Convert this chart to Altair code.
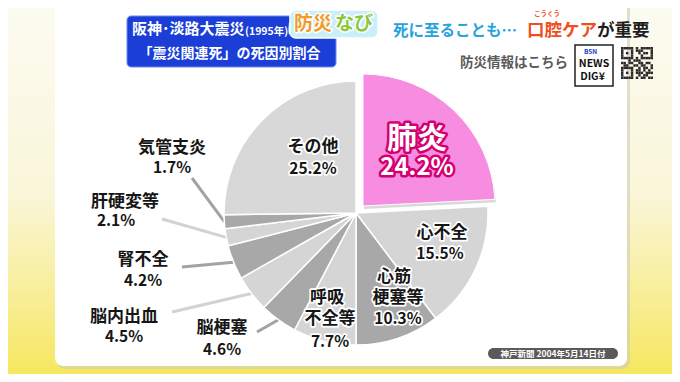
import math
import altair as alt
import pandas as pd

# ---------------- data ----------------
categories = ["肺炎", "心不全", "心筋梗塞等", "呼吸不全等", "脳梗塞",
              "脳内出血", "腎不全", "肝硬変等", "気管支炎", "その他"]
values = [24.2, 15.5, 10.3, 7.7, 4.6, 4.5, 4.2, 2.1, 1.7, 25.2]
name_lines = [["肺炎"], ["心不全"], ["心筋", "梗塞等"], ["呼吸", "不全等"], ["脳梗塞"],
              ["脳内出血"], ["腎不全"], ["肝硬変等"], ["気管支炎"], ["その他"]]

title_line1 = ["阪神･淡路大震災", "(1995年)", "に関連する"]
title_line2 = "「震災関連死」の死因別割合"
badge_parts = ["防災", "なび"]
headline_parts = ["死に至ることも…", "口腔ケア", "が重要"]
furigana = "こうくう"
link_text = "防災情報はこちら"
logo_lines = ["BSN", "NEWS", "DIG¥"]
source_text = "神戸新聞  2004年5月14日付"

# ---------------- styles / layout (screen pixel coords) ----------------
FONT = "Noto Sans CJK JP"
slice_colors = ["#f78de0", "#d5d5d5", "#a8a8a8", "#d5d5d5", "#a8a8a8",
                "#d5d5d5", "#a8a8a8", "#d5d5d5", "#a8a8a8", "#d8d8d8"]
line_colors = {"脳梗塞": "#a3a3a3", "脳内出血": "#d2d2d2", "腎不全": "#a3a3a3",
               "肝硬変等": "#d2d2d2", "気管支炎": "#a3a3a3"}
inside_labels = {"肺炎", "心不全", "心筋梗塞等", "呼吸不全等", "その他"}
CX, CY, R = 356, 213, 132          # pie centre / radius (screen px)
EXPLODE = (7, -7)                  # offset of the highlighted slice
name_pos = {
    "肺炎": [(417, 139)], "心不全": [(442, 233)], "心筋梗塞等": [(394, 277), (398, 298)],
    "呼吸不全等": [(327, 298), (330, 319)], "脳梗塞": [(222, 328)], "脳内出血": [(124, 317)],
    "腎不全": [(143, 260)], "肝硬変等": [(125, 202)], "気管支炎": [(172, 148)], "その他": [(313, 147)],
}
pct_pos = {
    "肺炎": (417, 168), "心不全": (440, 254), "心筋梗塞等": (398, 319), "呼吸不全等": (330, 342),
    "脳梗塞": (222, 350), "脳内出血": (124, 337), "腎不全": (143, 281), "肝硬変等": (116, 221),
    "気管支炎": (172, 168), "その他": (313, 169),
}
leader_start = {"気管支炎": (192, 178), "肝硬変等": (162, 219), "腎不全": (182, 267),
                "脳内出血": (172, 312), "脳梗塞": (257, 332)}

W, H = 664, 366
XS = alt.Scale(domain=[8, 8 + W], nice=False, zero=False)
YS = alt.Scale(domain=[8, 8 + H], nice=False, zero=False, reverse=True)
X = alt.X("x:Q", scale=XS, axis=None)
Y = alt.Y("y:Q", scale=YS, axis=None)


def rect_layer(rows, **mark):
    df = pd.DataFrame(rows, columns=["x", "x2", "y", "y2"])
    return alt.Chart(df).mark_rect(**mark).encode(
        x=X, x2="x2:Q", y=Y, y2="y2:Q")


# ---------------- background ----------------
bg = rect_layer([(8, 8 + W, 8, 8 + H)], color=alt.Gradient(
    gradient="linear", x1=0, y1=0, x2=0, y2=1,
    stops=[alt.GradientStop(color="#fcfbf1", offset=0),
           alt.GradientStop(color="#faf6da", offset=0.5),
           alt.GradientStop(color="#f8ee9a", offset=0.78),
           alt.GradientStop(color="#f6e75f", offset=1)]))
panel_shadow = rect_layer([(57, 630, 0, 369)], color="#cfcdb8", opacity=0.6, cornerRadius=8)
panel = rect_layer([(55, 627, 0, 366)], color="#ffffff", cornerRadius=8)

title_box = rect_layer([(127, 336, 16, 67)], color="#1a3ed6", cornerRadius=4,
                       stroke="#6d8cf0", strokeWidth=1)
badge_box = rect_layer([(290, 378, 10, 38)], color="#c9eff9", cornerRadius=6,
                       stroke="#ffffff", strokeWidth=1.5)
logo_box = rect_layer([(575, 613, 45, 86)], fill="#ffffff", stroke="#222222", strokeWidth=1.5)
source_box = rect_layer([(488, 618, 348, 359)], color="#5a5a5a", cornerRadius=6)

# decorative QR-like block
qr_rows = ["1111101011111", "1000101110001", "1010100101101", "1000100010001",
           "1111101011111", "0001011100000", "1101100110110", "0110011011001",
           "1111100101101", "1000101101010", "1010101110111", "1000100101100",
           "1111101011011"]
qx0, qy0, cell = 621, 47, 32 / 13
qr_cells = [(qx0 + c * cell, qx0 + (c + 1) * cell, qy0 + r * cell, qy0 + (r + 1) * cell)
            for r, row in enumerate(qr_rows) for c, ch in enumerate(row) if ch == "1"]
qr = rect_layer(qr_cells, color="#2a2a2a")

# ---------------- pie ----------------
starts, ends, acc = [], [], 0.0
for v in values:
    starts.append(acc)
    acc += v
    ends.append(acc)
pie_df = pd.DataFrame({"cat": categories, "start": starts, "end": ends, "color": slice_colors})
theta_scale = alt.Scale(domain=[0, 100], range=[0, 2 * math.pi])


def arc_layer(df, cx, cy, **mark):
    return alt.Chart(df).mark_arc(outerRadius=R, **mark).encode(
        theta=alt.Theta("start:Q", scale=theta_scale, stack=None),
        theta2="end:Q",
        color=alt.Color("color:N", scale=None),
        x=alt.value(cx - 8), y=alt.value(cy - 8))


rest = arc_layer(pie_df[pie_df["cat"] != "肺炎"], CX, CY, stroke="#ffffff", strokeWidth=1.5)
hl_df = pie_df[pie_df["cat"] == "肺炎"]
hl_shadow = arc_layer(hl_df.assign(color="#c8c8c8"), CX + EXPLODE[0] + 1, CY + EXPLODE[1] + 3,
                      opacity=0.7)
hl = arc_layer(hl_df, CX + EXPLODE[0], CY + EXPLODE[1], stroke="#ffffff", strokeWidth=1)

# leader lines: from label to slice edge at mid-angle
lrows = []
for cat, (sx, sy) in leader_start.items():
    i = categories.index(cat)
    mid = (starts[i] + ends[i]) / 2 / 100 * 2 * math.pi
    ex, ey = CX + R * math.sin(mid), CY - R * math.cos(mid)
    lrows.append({"x": sx, "y": sy, "x2": ex, "y2": ey, "color": line_colors[cat]})
leaders = alt.Chart(pd.DataFrame(lrows)).mark_rule(strokeWidth=3).encode(
    x=X, y=Y, x2="x2:Q", y2="y2:Q", color=alt.Color("color:N", scale=None))


# ---------------- texts ----------------
def make_adder(store):
    def add(x, y, text, size, fill, stroke="#ffffff", sw=0, align="center"):
        store.append(dict(x=x, y=y, text=text, size=size, fill=fill, stroke=stroke,
                          sw=sw, anchor=align))
    return add


def text_layers(rows):
    tdf = pd.DataFrame(rows)
    out = []
    for al in ["left", "center"]:
        sub = tdf[tdf["anchor"] == al]
        if not len(sub):
            continue
        base = dict(font=FONT, fontWeight="bold", align=al, baseline="middle")
        halo = sub[sub["sw"] > 0]
        if len(halo):
            out.append(alt.Chart(halo).mark_text(strokeJoin="round", **base).encode(
                x=X, y=Y, text="text:N", size=alt.Size("size:Q", scale=None),
                color=alt.Color("stroke:N", scale=None),
                stroke=alt.Stroke("stroke:N", scale=None),
                strokeWidth=alt.StrokeWidth("sw:Q", scale=None)))
        out.append(alt.Chart(sub).mark_text(**base).encode(
            x=X, y=Y, text="text:N", size=alt.Size("size:Q", scale=None),
            color=alt.Color("fill:N", scale=None)))
    return out


T_title, T_main = [], []
add_t = make_adder(T_title)
add = make_adder(T_main)

add_t(132, 29, title_line1[0], 15, "#ffffff", align="left")
add_t(245, 32, title_line1[1], 10.5, "#ffffff", align="left")
add_t(287, 29, title_line1[2], 14, "#ffffff", align="left")
add_t(229.5, 54, title_line2, 14, "#ffffff")

for cat, v, lines in zip(categories, values, name_lines):
    hlt = cat == "肺炎"
    halo = 3.5 if cat in inside_labels else 0
    for (px, py), ln in zip(name_pos[cat], lines):
        if hlt:
            add(px, py, ln, 30, "#ffffff", "#d3006f", 5)
        else:
            add(px, py, ln, 17, "#161616", "#ffffff", halo)
    px, py = pct_pos[cat]
    if hlt:
        add(px, py, f"{v}%", 24, "#ffffff", "#d3006f", 5)
    else:
        add(px, py, f"{v}%", 15.5, "#161616", "#ffffff", halo)

add(313, 24, badge_parts[0], 19, "#f39a2b", "#ffffff", 3)
add(354, 24, badge_parts[1], 19, "#8cc63f", "#ffffff", 3)

add(393, 31, headline_parts[0], 15.5, "#27a3dc", align="left")
add(527, 31, headline_parts[1], 17.5, "#ef4f1e", align="left")
add(597, 31, headline_parts[2], 17.5, "#1e1e1e", align="left")
add(547, 14, furigana, 6.5, "#ef4f1e")

add(460, 63, link_text, 13.5, "#5a5a5a", align="left")
add(584, 52, logo_lines[0], 6.5, "#1a3ed6", align="left")
add(594, 64, logo_lines[1], 10.5, "#111111")
add(592.5, 77, logo_lines[2], 10.5, "#111111")
add(553, 353.5, source_text, 8.5, "#ffffff")

chart = alt.layer(
    bg, panel_shadow, panel, leaders, rest, hl_shadow, hl,
    title_box, *text_layers(T_title), badge_box, logo_box, qr, source_box,
    *text_layers(T_main)
).properties(
    width=W, height=H, padding=0, autosize=alt.AutoSizeParams(type="none"),
    background="#fcfbf1"
).configure_view(stroke=None)

chart.save("out.html", embed_options={"renderer": "svg", "actions": False})
